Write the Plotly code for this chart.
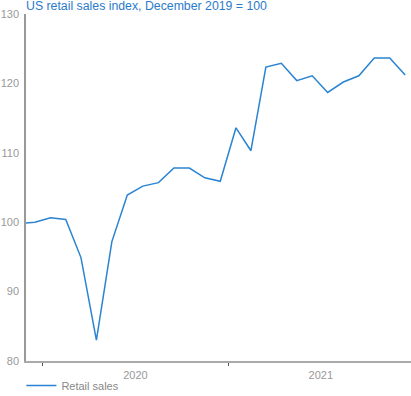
import plotly.graph_objects as go

months = ["2019-11-01", "2019-12-01",
          "2020-01-01", "2020-02-01", "2020-03-01", "2020-04-01", "2020-05-01", "2020-06-01",
          "2020-07-01", "2020-08-01", "2020-09-01", "2020-10-01", "2020-11-01", "2020-12-01",
          "2021-01-01", "2021-02-01", "2021-03-01", "2021-04-01", "2021-05-01", "2021-06-01",
          "2021-07-01", "2021-08-01", "2021-09-01", "2021-10-01", "2021-11-01", "2021-12-01"]
retail_sales = [99.8, 100.0,
                100.65, 100.4, 94.9, 83.0, 97.2, 103.9,
                105.2, 105.7, 107.8, 107.8, 106.4, 105.9,
                113.6, 110.3, 122.35, 122.9, 120.4, 121.1,
                118.7, 120.2, 121.1, 123.65, 123.65, 121.2]
y_ticks = [80, 90, 100, 110, 120, 130]
title_text = "US retail sales index, December 2019 = 100"
series_name = "Retail sales"

FONT = "Liberation Sans, Arial, sans-serif"
BLUE = "#2a84d2"
GRAY = "#999999"

fig = go.Figure()
fig.add_trace(go.Scatter(
    x=months, y=retail_sales, mode="lines", name=series_name,
    xperiod="M1", xperiodalignment="middle",
    line=dict(color=BLUE, width=1.5),
))

fig.update_layout(
    width=411, height=396,
    margin=dict(l=26, r=0, t=14, b=35, autoexpand=False),
    paper_bgcolor="white", plot_bgcolor="white",
    font=dict(family=FONT, color=GRAY, size=11),
    title=dict(text=title_text, font=dict(family=FONT, size=12.3, color="#2b7bcb"),
               x=26/411, xanchor="left", xref="container",
               y=1 - 1/396, yanchor="top", yref="container", pad=dict(t=0, b=0, l=0, r=0)),
    showlegend=True,
    legend=dict(orientation="h", x=-0.012, xanchor="left",
                y=(396 - 371) / 396, yanchor="top", yref="container",
                font=dict(family=FONT, size=11, color="#888888"),
                itemwidth=30, bgcolor="rgba(0,0,0,0)"),
    xaxis=dict(
        type="date", range=["2019-11-29", "2021-12-28"],
        dtick="M12", tick0="2020-01-01", tickformat="%Y", ticklabelmode="period",
        ticks="outside", ticklen=3, tickcolor="#555555", tickwidth=1,
        showline=True, linecolor="#aaaaaa", linewidth=1.5,
        showgrid=False, zeroline=False,
        tickfont=dict(family=FONT, size=11, color=GRAY),
    ),
    yaxis=dict(
        range=[80, 130], tickvals=y_ticks,
        showline=True, linecolor="#999999", linewidth=1.5,
        showgrid=False, zeroline=False, ticks="",
        tickfont=dict(family=FONT, size=11, color=GRAY),
        ticklabelstandoff=3,
    ),
)

fig.write_html("out.html", config={"displayModeBar": False},
               post_script="document.body.style.margin='0';")
